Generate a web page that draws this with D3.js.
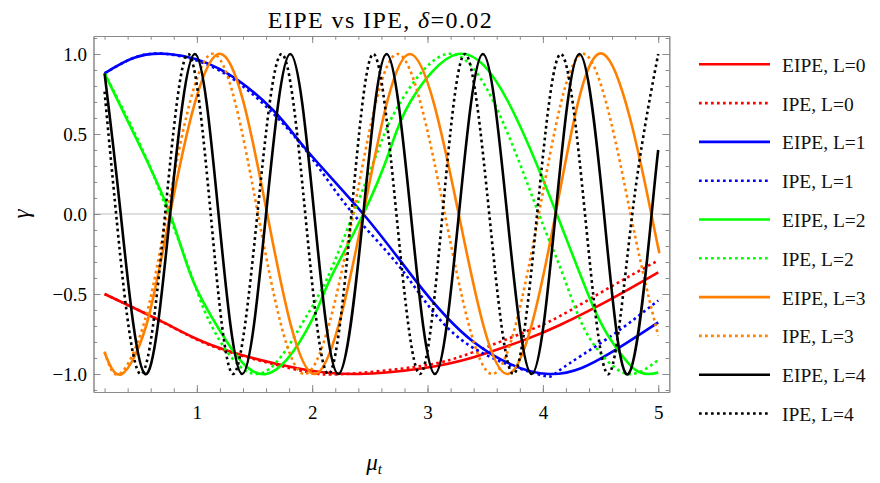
<!DOCTYPE html>
<html>
<head>
<meta charset="utf-8">
<script src="https://cdn.jsdelivr.net/npm/d3@7"></script>
<style>
  body { margin: 0; background: #fff; }
  svg { display: block; font-family: "Liberation Serif", "Times New Roman", serif; }
</style>
</head>
<body>
<div class="chart"></div>
<script>
// values (mu_t, gamma)
var muE0 = [0.2, 0.668, 0.957, 1.315, 1.893, 2.4, 2.96, 3.4, 3.83, 4.148, 4.582, 5.0];
var gamE0 = [-0.5, -0.662, -0.767, -0.865, -0.967, -1.0, -0.964, -0.895, -0.79, -0.694, -0.535, -0.365];
var muI0 = [0.2, 0.668, 0.957, 1.315, 1.893, 2.28, 2.96, 3.4, 3.83, 4.148, 4.582, 5.0];
var gamI0 = [-0.5, -0.662, -0.77, -0.87, -0.978, -1.0, -0.948, -0.862, -0.742, -0.638, -0.458, -0.29];

var muE1 = [0.2, 0.45, 0.755, 1.2, 1.66, 1.951, 2.443, 2.89, 3.4, 4.05, 4.582, 5.0];
var gamE1 = [0.879, 0.975, 1.0, 0.905, 0.65, 0.4, 0, -0.41, -0.8, -1.0, -0.87, -0.677];
var muI1 = [0.2, 0.45, 0.74, 1.2, 1.66, 2.009, 2.356, 2.79, 3.3, 3.95, 4.148, 4.582, 5.0];
var gamI1 = [0.879, 0.975, 1.0, 0.895, 0.63, 0.3375, 0, -0.36, -0.79, -1.0, -0.975, -0.767, -0.54];

var muE2 = [0.2, 0.523, 0.768, 0.957, 1.2, 1.6, 2.0, 2.153, 2.443, 2.674, 2.85, 3.266, 3.7, 4.12, 4.437, 4.61, 4.784, 4.92, 5.0];
var gamE2 = [0.879, 0.4, 0, -0.4, -0.73, -1.0, -0.66, -0.41, 0, 0.4, 0.7, 1.0, 0.7, 0, -0.58, -0.81, -0.964, -1.0, -0.99];
var muI2 = [0.2, 0.53, 0.755, 0.957, 1.15, 1.53, 1.9, 2.125, 2.356, 2.572, 2.75, 3.17, 3.6, 3.965, 4.148, 4.322, 4.5, 4.74, 5.0];
var gamI2 = [0.879, 0.4, 0, -0.39, -0.73, -1.0, -0.7, -0.41, 0, 0.4, 0.68, 1.0, 0.66, 0, -0.33, -0.66, -0.87, -1.0, -0.9125];

var muE3 = [0.2, 0.35, 0.56, 0.768, 1.185, 1.61, 2.02, 2.443, 2.847, 3.27, 3.69, 4.11, 4.524, 4.94, 5.0];
var gamE3 = [-0.865, -1.0, -0.7, 0, 1.0, 0, -1.0, 0, 1.0, 0, -1.0, 0, 1.0, 0, -0.204];
var muI3 = [0.2, 0.33, 0.535, 0.74, 1.125, 1.53, 1.935, 2.356, 2.74, 3.15, 3.56, 3.965, 4.36, 4.76, 5.0];
var gamI3 = [-0.86, -1.0, -0.7, 0, 1.0, 0, -1.0, 0, 1.0, 0, -1.0, 0, 1.0, 0, -0.76];

var muE4 = [0.2, 0.34, 0.552, 0.768, 0.983, 1.188, 1.393, 1.6, 1.81, 2.018, 2.226, 2.443, 2.645, 2.855, 3.064, 3.272, 3.48, 3.69, 3.903, 4.11, 4.316, 4.53, 4.741, 4.943, 5.0];
var gamE4 = [0.879, 0, -1, 0, 1, 0, -1, 0, 1, 0, -1, 0, 1, 0, -1, 0, 1, 0, -1, 0, 1, 0, -1, 0, 0.4];
var muI4 = [0.2, 0.30, 0.508, 0.725, 0.925, 1.12, 1.315, 1.525, 1.735, 1.94, 2.14, 2.34, 2.53, 2.73, 2.934, 3.13, 3.325, 3.535, 3.743, 3.95, 4.155, 4.365, 4.57, 4.775, 5.0];
var gamI4 = [0.765, 0, -1, 0, 1, 0, -1, 0, 1, 0, -1, 0, 1, 0, -1, 0, 1, 0, -1, 0, 1, 0, -1, 0, 1.0];

var seriesLabels = ["EIPE, L=0", "IPE, L=0", "EIPE, L=1", "IPE, L=1", "EIPE, L=2",
                    "IPE, L=2", "EIPE, L=3", "IPE, L=3", "EIPE, L=4", "IPE, L=4"];
var seriesColors = ["#ff0000", "#ff0000", "#0000ff", "#0000ff", "#00ff00",
                    "#00ff00", "#ff8000", "#ff8000", "#000000", "#000000"];
var seriesDotted = [false, true, false, true, false, true, false, true, false, true];
var seriesMu = [muE0, muI0, muE1, muI1, muE2, muI2, muE3, muI3, muE4, muI4];
var seriesGam = [gamE0, gamI0, gamE1, gamI1, gamE2, gamI2, gamE3, gamI3, gamE4, gamI4];

var xMajor = [1, 2, 3, 4, 5];
var yMajor = [-1, -0.5, 0, 0.5, 1];
var yLabels = ["\u22121.0", "\u22120.5", "0.0", "0.5", "1.0"];

var width = 880, height = 483;
var frame = {left: 93.5, right: 669.3, top: 36, bottom: 392};

var svg = d3.select('.chart')
  .append('svg')
	.attr('width', width)
	.attr('height', height);

var x = d3.scaleLinear().domain([0.104, 5.096]).range([frame.left, frame.right]);
var y = d3.scaleLinear().domain([-1.1125, 1.1125]).range([frame.bottom, frame.top]);

var xMinor = d3.range(0.2, 5.05, 0.2).map(v => +v.toFixed(1));
var yMinor = d3.range(-1.1, 1.15, 0.1).map(v => +v.toFixed(1));

// zero line
svg.append('line')
	.attr('x1', frame.left).attr('x2', frame.right)
	.attr('y1', y(0)).attr('y2', y(0))
	.attr('stroke', '#bdbdbd')
	.attr('stroke-width', 1);

// curves
svg.append('clipPath').attr('id', 'clip')
  .append('rect')
	.attr('x', frame.left).attr('y', frame.top)
	.attr('width', frame.right - frame.left).attr('height', frame.bottom - frame.top);

var line = d3.line()
	.x(d => x(d[0]))
	.y(d => y(d[1]))
	.curve(d3.curveNatural);

var plot = svg.append('g').attr('clip-path', 'url(#clip)');
seriesMu.forEach(function(mu, i) {
	var pts = mu.map((m, j) => [m, seriesGam[i][j]]);
	plot.append('path')
		.attr('d', line(pts))
		.attr('fill', 'none')
		.attr('stroke', seriesColors[i])
		.attr('stroke-width', 2.6)
		.attr('stroke-dasharray', seriesDotted[i] ? '2.7,3.3' : null);
});

// frame with ticks on all four sides
function styleAxis(g) {
	g.selectAll('path.domain').attr('stroke', '#8a8a8a');
	g.selectAll('.tick line').attr('stroke', '#8a8a8a');
	g.selectAll('.tick text').attr('fill', '#000').attr('font-size', 19)
		.attr('font-family', '"Liberation Serif", "Times New Roman", serif');
}

svg.append('g').attr('transform', `translate(0, ${frame.bottom})`)
	.call(d3.axisBottom(x).tickValues(xMinor).tickSize(-3.7).tickSizeOuter(0).tickFormat(''))
	.call(styleAxis);
svg.append('g').attr('transform', `translate(0, ${frame.bottom})`)
	.call(d3.axisBottom(x).tickValues(xMajor).tickSize(-7).tickSizeOuter(0).tickPadding(14).tickFormat(d3.format('d')))
	.call(styleAxis);
svg.append('g').attr('transform', `translate(0, ${frame.top})`)
	.call(d3.axisTop(x).tickValues(xMinor).tickSize(-3.7).tickSizeOuter(0).tickFormat(''))
	.call(styleAxis);
svg.append('g').attr('transform', `translate(0, ${frame.top})`)
	.call(d3.axisTop(x).tickValues(xMajor).tickSize(-7).tickSizeOuter(0).tickFormat(''))
	.call(styleAxis);

svg.append('g').attr('transform', `translate(${frame.left}, 0)`)
	.call(d3.axisLeft(y).tickValues(yMinor).tickSize(-3.7).tickSizeOuter(0).tickFormat(''))
	.call(styleAxis);
svg.append('g').attr('transform', `translate(${frame.left}, 0)`)
	.call(d3.axisLeft(y).tickValues(yMajor).tickSize(-7).tickSizeOuter(0).tickPadding(6.5)
		.tickFormat((d, i) => yLabels[i]))
	.call(styleAxis);
svg.append('g').attr('transform', `translate(${frame.right}, 0)`)
	.call(d3.axisRight(y).tickValues(yMinor).tickSize(-3.7).tickSizeOuter(0).tickFormat(''))
	.call(styleAxis);
svg.append('g').attr('transform', `translate(${frame.right}, 0)`)
	.call(d3.axisRight(y).tickValues(yMajor).tickSize(-7).tickSizeOuter(0).tickFormat(''))
	.call(styleAxis);

// title and axis labels
var title = svg.append('text')
	.attr('x', 380.5)
	.attr('y', 27.5)
	.attr('text-anchor', 'middle')
	.attr('font-size', 24)
	.attr('letter-spacing', 1.4);
title.append('tspan').text('EIPE vs IPE, ');
title.append('tspan').attr('font-style', 'italic').text('\u03b4');
title.append('tspan').text('=0.02');

svg.append('text')
	.attr('transform', `translate(29, ${(frame.top + frame.bottom) / 2}) rotate(-90)`)
	.attr('text-anchor', 'middle')
	.attr('font-size', 23)
	.attr('font-style', 'italic')
	.text('\u03b3');

var xLabel = svg.append('text')
	.attr('x', 374)
	.attr('y', 470)
	.attr('text-anchor', 'middle')
	.attr('font-style', 'italic')
	.attr('font-size', 23);
xLabel.append('tspan').text('\u03bc');
xLabel.append('tspan').attr('font-size', 15).attr('dy', 4).text('t');

// legend
var legend = svg.append('g').attr('transform', 'translate(699, 64.3)');
seriesLabels.forEach(function(lab, i) {
	var row = legend.append('g').attr('transform', `translate(0, ${i * 38.8})`);
	row.append('line')
		.attr('x1', 0).attr('x2', 71)
		.attr('stroke', seriesColors[i])
		.attr('stroke-width', 2.6)
		.attr('stroke-dasharray', seriesDotted[i] ? '2.7,3.3' : null);
	row.append('text')
		.attr('x', 83)
		.attr('y', 7.5)
		.attr('font-size', 19.5)
		.attr('fill', '#111')
		.text(lab);
});
</script>
</body>
</html>
